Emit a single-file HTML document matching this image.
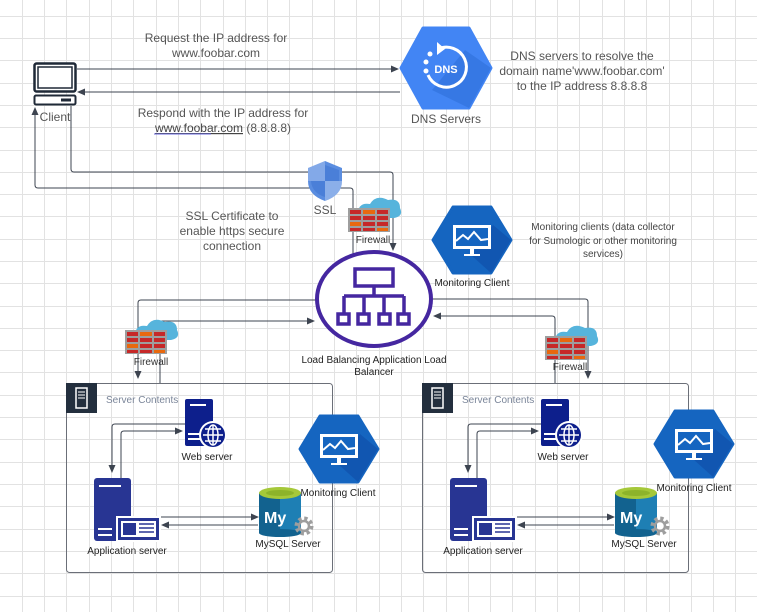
<!DOCTYPE html>
<html><head><meta charset="utf-8"><style>
html,body{margin:0;padding:0;background:#fff;}
svg{display:block;font-family:"Liberation Sans",sans-serif;}
</style></head><body>
<svg width="757" height="612" viewBox="0 0 757 612" xmlns="http://www.w3.org/2000/svg">
<defs>
<marker id="ar" markerWidth="8" markerHeight="8" refX="7" refY="4" orient="auto" markerUnits="userSpaceOnUse">
<path d="M0 0.5L8 4L0 7.5Z" fill="#3d4450"/>
</marker>
<g id="fw">
<path d="M10 20 Q10 8 22 10 Q28 0 40 6 Q52 4 52 14 Q56 22 46 24 L12 24Z" fill="#56b4dc"/>
<rect x="0" y="14" width="42" height="24" fill="#9e9e9e"/>
<g fill="#c62828">
<rect x="2" y="16" width="11" height="4"/><rect x="29" y="16" width="11" height="4"/>
<rect x="2" y="22" width="11" height="4"/><rect x="15" y="22" width="12" height="4"/><rect x="29" y="22" width="11" height="4"/>
<rect x="15" y="28" width="12" height="4"/><rect x="29" y="28" width="11" height="4"/>
<rect x="2" y="34" width="11" height="3"/><rect x="15" y="34" width="12" height="3"/>
</g>
<g fill="#e8680e">
<rect x="15" y="16" width="12" height="4"/><rect x="2" y="28" width="11" height="4"/><rect x="29" y="34" width="11" height="3"/>
</g>
</g>
<g id="mon">
<path d="M20 0H58L78 33L58 66H20L0 33Z" fill="#1565c0" stroke="#1565c0" stroke-width="3" stroke-linejoin="round"/>
<path d="M58 66L78 33L60 18L38 48Z" fill="#0d47a1" opacity="0.5"/>
<rect x="20" y="18" width="38" height="24" fill="#fff"/>
<rect x="23" y="21" width="32" height="18" fill="#1565c0"/>
<path d="M23 34L30 28L35 32L41 25L48 33L55 32" stroke="#fff" stroke-width="2" fill="none"/>
<rect x="37" y="42" width="4" height="5" fill="#fff"/><rect x="31" y="47" width="16" height="2" fill="#fff"/>
</g>
<g id="box">
<rect x="0.5" y="0.5" width="266" height="189" rx="3" fill="none" stroke="#6b6f78" stroke-width="1"/>
<rect x="0" y="0" width="31" height="30" fill="#232f3e"/>
<rect x="10" y="5" width="11" height="20" fill="none" stroke="#fff" stroke-width="1.5"/>
<path d="M12 9H19M12 12H19M12 15H19" stroke="#fff"/>
</g>
<g id="inner">
<rect x="119" y="16" width="28" height="47" rx="2" fill="#0d1f8c"/>
<path d="M124 22H140" stroke="#fff" stroke-width="2"/>
<path d="M122 51H134M122 56H134" stroke="#fff" stroke-width="2"/>
<circle cx="147" cy="52" r="14" fill="#fff"/>
<circle cx="147" cy="52" r="12" fill="#0d1f8c"/>
<g stroke="#fff" stroke-width="1.5" fill="none"><ellipse cx="147" cy="52" rx="5" ry="10"/><path d="M137 52H157M139 46H155M139 58H155M147 42V62"/></g>
<rect x="28" y="95" width="37" height="63" rx="3" fill="#283593"/>
<path d="M33 103H55" stroke="#fff" stroke-width="2"/>
<path d="M32 146H46M32 152H46" stroke="#fff" stroke-width="2"/>
<rect x="50" y="133" width="45" height="26" fill="#fff"/>
<rect x="52" y="135" width="41" height="22" fill="#283593"/>
<rect x="55" y="138" width="35" height="16" fill="#fff"/>
<rect x="57" y="140" width="13" height="12" fill="#283593"/>
<path d="M73 141H88M73 145H88M73 149H88" stroke="#283593" stroke-width="1.5"/>
<rect x="193" y="110" width="42" height="40" fill="#1e7fb4"/>
<rect x="193" y="110" width="21" height="40" fill="#12628f"/>
<ellipse cx="214" cy="150" rx="21" ry="4" fill="#12628f"/>
<ellipse cx="214" cy="110" rx="21" ry="6" fill="#a5c839"/>
<ellipse cx="214" cy="110" rx="14" ry="3" fill="#8db32a"/>
<text x="198" y="140" font-size="16" font-weight="bold" fill="#fff">My</text>
<circle cx="238" cy="143" r="7" fill="none" stroke="#9e9e9e" stroke-width="5" stroke-dasharray="3 2.5"/>
<circle cx="238" cy="143" r="5" fill="none" stroke="#9e9e9e" stroke-width="2.5"/>
<g stroke="#3d4450" stroke-width="1" fill="none">
<path d="M55 95V51Q55 48 58 48H116" marker-end="url(#ar)"/>
<path d="M119 41H49Q46 41 46 44V89" marker-end="url(#ar)"/>
<path d="M95 134H192" marker-end="url(#ar)"/>
<path d="M192 142H96" marker-end="url(#ar)"/>
</g>
<text x="141" y="77" font-size="10" fill="#222" text-anchor="middle">Web server</text>
<text x="61" y="171" font-size="10" fill="#222" text-anchor="middle">Application server</text>
<text x="222" y="164" font-size="10" fill="#222" text-anchor="middle">MySQL Server</text>
<text x="40" y="20" font-size="10" fill="#7a8599">Server Contents</text>
</g>
</defs>
<path stroke="#e2e2e2" stroke-width="1" fill="none" d="M22.5 0V612M44.5 0V612M66.5 0V612M89.5 0V612M111.5 0V612M133.5 0V612M156.5 0V612M178.5 0V612M200.5 0V612M223.5 0V612M245.5 0V612M267.5 0V612M289.5 0V612M312.5 0V612M334.5 0V612M356.5 0V612M379.5 0V612M401.5 0V612M423.5 0V612M446.5 0V612M468.5 0V612M490.5 0V612M512.5 0V612M535.5 0V612M557.5 0V612M579.5 0V612M602.5 0V612M624.5 0V612M646.5 0V612M669.5 0V612M691.5 0V612M713.5 0V612M735.5 0V612
M0 16.5H757M0 38.5H757M0 60.5H757M0 83.5H757M0 105.5H757M0 127.5H757M0 150.5H757M0 172.5H757M0 194.5H757M0 216.5H757M0 239.5H757M0 261.5H757M0 283.5H757M0 306.5H757M0 328.5H757M0 350.5H757M0 372.5H757M0 395.5H757M0 417.5H757M0 439.5H757M0 462.5H757M0 484.5H757M0 506.5H757M0 529.5H757M0 551.5H757M0 573.5H757M0 596.5H757"/>

<g stroke="#3d4450" stroke-width="1" fill="none">
<path d="M77 69H398" marker-end="url(#ar)"/>
<path d="M400 92H78" marker-end="url(#ar)"/>
<path d="M353 260V191Q353 188 350 188H38Q35 188 35 185V108" marker-end="url(#ar)"/>
<path d="M71 106V169Q71 172 74 172H390Q393 172 393 175V250" marker-end="url(#ar)"/>
<path d="M316 300H141Q138 300 138 303V378" marker-end="url(#ar)"/>
<path d="M160 383V321H314" marker-end="url(#ar)"/>
<path d="M433 299H585Q588 299 588 302V378" marker-end="url(#ar)"/>
<path d="M555 383V319Q555 316 552 316H434" marker-end="url(#ar)"/>
</g>

<rect x="34.5" y="63.5" width="41" height="28" rx="2" fill="#fff" stroke="#1f2937" stroke-width="2.5"/>
<rect x="38" y="67" width="34" height="21" fill="none" stroke="#1f2937" stroke-width="1.5"/>
<rect x="34.5" y="95.5" width="41" height="9" rx="1.5" fill="#fff" stroke="#1f2937" stroke-width="2"/>
<rect x="61" y="98.5" width="10" height="3" fill="#1f2937"/>
<text x="55" y="121" font-size="12" fill="#555" text-anchor="middle">Client</text>

<g font-size="12" fill="#555" text-anchor="middle">
<text x="216" y="42">Request the IP address for</text>
<text x="216" y="57">www.foobar.com</text>
<text x="223" y="117">Respond with the IP address for</text>
<text x="223" y="132"><tspan fill="#444" text-decoration="underline">www.foobar.com</tspan> (8.8.8.8)</text>
<text x="232" y="220">SSL Certificate to</text>
<text x="232" y="235">enable https secure</text>
<text x="232" y="250">connection</text>
<text x="446" y="123">DNS Servers</text>
<text x="582" y="60">DNS servers to resolve  the</text>
<text x="582" y="75">domain name'www.foobar.com'</text>
<text x="582" y="90">to the IP address 8.8.8.8</text>
<text x="325" y="214">SSL</text>
</g>
<line x1="154" y1="134" x2="211" y2="134" stroke="#6a6adf" stroke-width="1"/>

<path d="M423 28H469L491 68L469 108H423L401 68Z" fill="#4285f4" stroke="#4285f4" stroke-width="3" stroke-linejoin="round"/>
<path d="M469 108L491 68L465 50L432 90Z" fill="#2f6fd8" opacity="0.6"/>
<path d="M438 49A20 20 0 1 1 428 75" stroke="#fff" stroke-width="3" fill="none"/>
<path d="M437 42L445 49L437 55Z" fill="#fff"/>
<circle cx="430" cy="54" r="2.5" fill="#fff"/><circle cx="426" cy="62" r="2.5" fill="#fff"/><circle cx="426" cy="71" r="2.5" fill="#fff"/>
<text x="446" y="73" font-size="11" font-weight="bold" fill="#fff" text-anchor="middle">DNS</text>

<path d="M325 161L342 168V181Q342 195 325 201Q308 195 308 181V168Z" fill="#5a8de0"/>
<path d="M325 161V181H308V168Z" fill="#fff" opacity="0.25"/>
<path d="M325 181V201Q342 195 342 181Z" fill="#fff" opacity="0.3"/>
<path d="M325 165L339 170V181H325ZM325 181H311Q312 193 325 197Z" fill="#4a7fd8"/>

<use href="#fw" x="348" y="194"/>
<text x="373" y="243" font-size="10" fill="#333" text-anchor="middle">Firewall</text>
<use href="#fw" x="125" y="316"/>
<text x="151" y="365" font-size="10" fill="#333" text-anchor="middle">Firewall</text>
<use href="#fw" x="545" y="322"/>
<text x="570" y="370" font-size="10" fill="#333" text-anchor="middle">Firewall</text>

<ellipse cx="374" cy="299" rx="57" ry="47" fill="#fff" stroke="#4527a0" stroke-width="4"/>
<g stroke="#4527a0" stroke-width="3.5" fill="none">
<rect x="355" y="269" width="38" height="17"/>
<path d="M374 286V296M344 296H404M344 296V314M364 296V314M384 296V314M404 296V314"/>
<rect x="338" y="314" width="11" height="10"/><rect x="358" y="314" width="11" height="10"/>
<rect x="379" y="314" width="11" height="10"/><rect x="398" y="314" width="11" height="10"/>
</g>
<text x="374" y="363" font-size="10" fill="#222" text-anchor="middle">Load Balancing Application Load</text>
<text x="374" y="375" font-size="10" fill="#222" text-anchor="middle">Balancer</text>

<use href="#mon" x="433" y="207"/>
<text x="472" y="286" font-size="10" fill="#222" text-anchor="middle">Monitoring Client</text>
<g font-size="10" fill="#444" text-anchor="middle">
<text x="603" y="230">Monitoring clients (data collector</text>
<text x="603" y="244">for Sumologic or other monitoring</text>
<text x="603" y="257">services)</text>
</g>

<use href="#box" x="66" y="383"/>
<use href="#inner" x="66" y="383"/>
<use href="#mon" x="300" y="416"/>
<text x="338" y="496" font-size="10" fill="#222" text-anchor="middle">Monitoring Client</text>

<use href="#box" x="422" y="383"/>
<use href="#inner" x="422" y="383"/>
<use href="#mon" x="655" y="411"/>
<text x="694" y="491" font-size="10" fill="#222" text-anchor="middle">Monitoring Client</text>
</svg>
</body></html>
